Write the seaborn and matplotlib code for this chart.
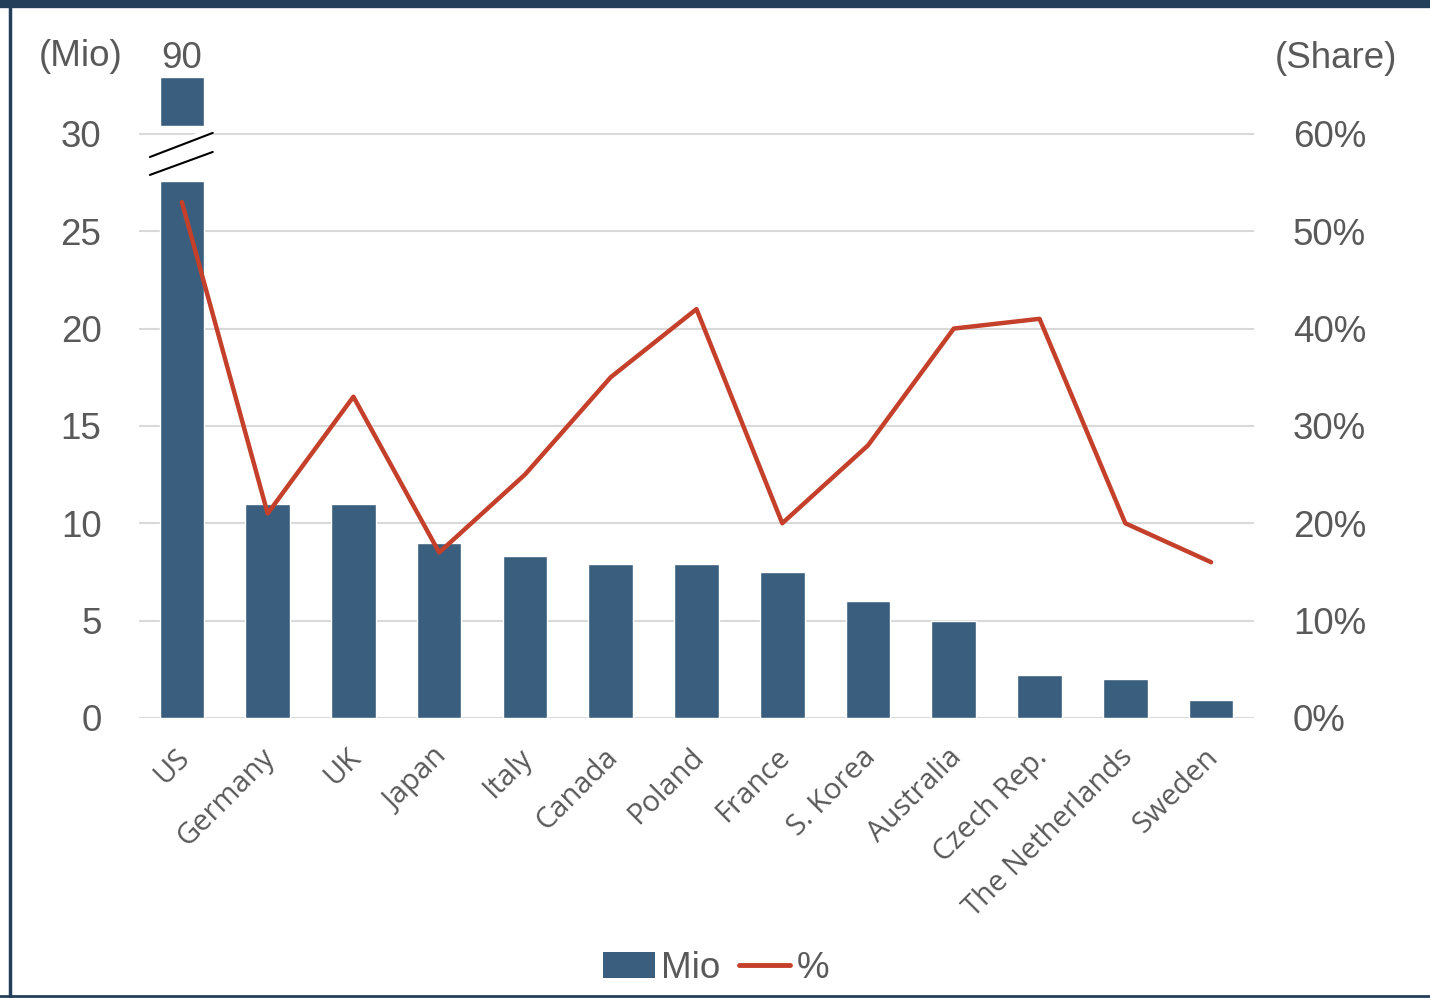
import numpy as np
import seaborn as sns
import matplotlib.pyplot as plt
import matplotlib.transforms as mtransforms
from matplotlib.patches import Patch, Polygon
from matplotlib.lines import Line2D

# Daten
countries = ['US', 'Germany', 'UK', 'Japan', 'Italy', 'Canada', 'Poland', 'France',
             'S. Korea', 'Australia', 'Czech Rep.', 'The Netherlands', 'Sweden']
mio = [90, 11, 11, 9, 8.3, 7.9, 7.9, 7.5, 6, 5, 2.2, 2.0, 0.9]
share = [53, 21, 33, 17, 25, 35, 42, 20, 28, 40, 41, 20, 16]

# Achsenbruch fuer den US-Balken
break_low = 27.6
break_high = 30.4
y_top = 33.0

bar_color = '#3A5F7E'
line_color = '#C4402A'
text_color = '#595959'
grid_color = '#D9D9D9'
frame_color = '#243F5A'
fs = 26.5

sns.set_style('white')
plt.rcParams['font.family'] = ['Liberation Sans', 'DejaVu Sans']

fig = plt.figure(figsize=(14.3, 9.98), dpi=100)
ax = fig.add_axes([0.0972, 0.2806, 0.7797, 0.6438])

shown = np.minimum(mio, break_low)
sns.barplot(x=countries, y=shown, color=bar_color, saturation=1, width=0.52, ax=ax, zorder=2)
# oberes Stueck des US-Balkens
ax.bar(0, 32.9 - break_high, bottom=break_high, width=0.52, color=bar_color, zorder=2)

ax.set_xlim(-0.5, 12.5)
ax.set_ylim(0, y_top)
ax.set_yticks(range(0, 31, 5))
ax.yaxis.grid(True, color=grid_color, linewidth=1.5, zorder=0)
ax.set_axisbelow(True)
for s in ax.spines.values():
    s.set_visible(False)
ax.axhline(0, color=grid_color, linewidth=2, zorder=1)
ax.tick_params(axis='y', length=0, pad=27, labelsize=fs, labelcolor=text_color)
ax.tick_params(axis='x', length=0, pad=18, labelcolor=text_color)
ax.set_xlabel('')
ax.set_ylabel('')
shift = mtransforms.ScaledTranslation(-7 / 100, 0, fig.dpi_scale_trans)
for lbl in ax.get_xticklabels():
    lbl.set_rotation(45)
    lbl.set_ha('right')
    lbl.set_rotation_mode('anchor')
    lbl.set_family('Open Sans')
    lbl.set_fontsize(21)
    lbl.set_transform(lbl.get_transform() + shift)

# Bruchzeichen
x0, x1 = -0.373, 0.36
lo0, lo1 = 27.89, 29.07
up0, up1 = 28.81, 30.05
ax.add_patch(Polygon([(x0, lo0 - 0.3), (x1, lo1 - 0.3), (x1, up1 + 0.3), (x0, up0 + 0.3)],
                     closed=True, facecolor='white', edgecolor='none', zorder=3))
ax.add_patch(Polygon([(-0.26, lo0 + 0.1), (0.26, lo1 - 0.1), (0.26, up1 - 0.1), (-0.26, up0 + 0.1)],
                     closed=True, facecolor='white', edgecolor='none', zorder=3))
ax.plot([x0, x1], [lo0, lo1], color='black', linewidth=1.5, zorder=4)
ax.plot([x0, x1], [up0, up1], color='black', linewidth=1.5, zorder=4)

ax.text(0, 33.38, '90', ha='center', va='baseline', fontsize=fs, color=text_color, clip_on=False)

# rechte Achse
ax2 = ax.twinx()
sns.lineplot(x=np.arange(len(countries)), y=share, color=line_color, linewidth=3.2, ax=ax2, zorder=5)
ax2.set_ylim(0, y_top * 2)
ax2.set_yticks(range(0, 61, 10))
ax2.set_yticklabels([f'{v}%' for v in range(0, 61, 10)])
ax2.tick_params(axis='y', length=0, pad=28, labelsize=fs, labelcolor=text_color)
for s in ax2.spines.values():
    s.set_visible(False)
ax2.set_xlim(-0.5, 12.5)

fig.text(81 / 1430, 1 - 66 / 998, '(Mio)', ha='center', va='baseline', fontsize=fs, color=text_color)
fig.text(1336 / 1430, 1 - 68 / 998, '(Share)', ha='center', va='baseline', fontsize=fs, color=text_color)

handles = [Patch(facecolor=bar_color, edgecolor='none'),
           Line2D([0], [0], color=line_color, linewidth=3.5, solid_capstyle='round')]
leg = fig.legend(handles, ['Mio', '%'], loc='center', bbox_to_anchor=(716 / 1430, 1 - 968 / 998),
                 ncol=2, frameon=False, fontsize=fs, handlelength=1.4, handletextpad=0.17,
                 columnspacing=0.5, borderpad=0)
for t in leg.get_texts():
    t.set_color(text_color)

# Rahmen
fig.add_artist(Line2D([0, 1], [1 - 4 / 998, 1 - 4 / 998], color=frame_color, linewidth=6))
fig.add_artist(Line2D([10 / 1430, 10 / 1430], [0, 1], color=frame_color, linewidth=2.5))
fig.add_artist(Line2D([0, 1], [2 / 998, 2 / 998], color=frame_color, linewidth=2))

fig.savefig('out.png', dpi=100)
